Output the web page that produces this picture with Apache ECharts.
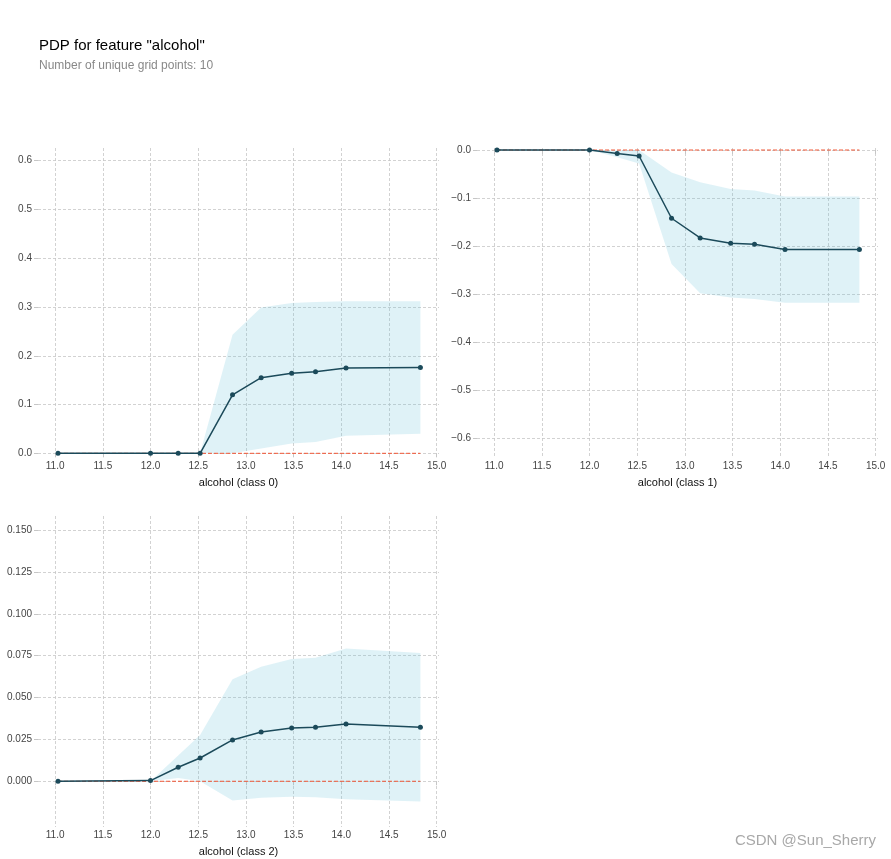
<!DOCTYPE html>
<html>
<head>
<meta charset="utf-8">
<script src="https://cdn.jsdelivr.net/npm/echarts@6/dist/echarts.min.js"></script>
<style>html,body{margin:0;padding:0;background:#fff}#c{width:891px;height:859px}</style>
</head>
<body>
<div id="c"></div>
<script>
const gridPoints = [11.03, 12.0, 12.29, 12.52, 12.86, 13.16, 13.48, 13.73, 14.05, 14.83];

const class0Mean  = [0, 0, 0, 0, 0.120, 0.155, 0.164, 0.167, 0.175, 0.176];
const class0Upper = [0, 0, 0, 0, 0.243, 0.299, 0.308, 0.310, 0.312, 0.312];
const class0Lower = [0, 0, 0, 0, 0.000, 0.010, 0.020, 0.023, 0.036, 0.040];

const class1Mean  = [0, 0, -0.007, -0.0125, -0.142, -0.183, -0.194, -0.196, -0.207, -0.207];
const class1Upper = [0, 0, -0.001, 0.000, -0.047, -0.067, -0.081, -0.084, -0.097, -0.097];
const class1Lower = [0, 0, -0.015, -0.028, -0.237, -0.298, -0.307, -0.310, -0.318, -0.318];

const class2Mean  = [0, 0.0004, 0.0084, 0.0139, 0.0247, 0.0294, 0.0318, 0.0322, 0.0342, 0.0322];
const class2Upper = [0, 0, 0.0154, 0.0276, 0.0609, 0.0684, 0.0730, 0.0738, 0.0793, 0.0766];
const class2Lower = [0, 0, 0.002, 0.000, -0.0115, -0.0099, -0.0093, -0.0095, -0.0107, -0.0121];

const xTicks = [11.0, 11.5, 12.0, 12.5, 13.0, 13.5, 14.0, 14.5, 15.0];
const yTicks0 = [0, 0.1, 0.2, 0.3, 0.4, 0.5, 0.6];
const yTicks1 = [-0.6, -0.5, -0.4, -0.3, -0.2, -0.1, 0];
const yTicks2 = [0, 0.025, 0.05, 0.075, 0.1, 0.125, 0.15];
const xNames = ['alcohol (class 0)', 'alcohol (class 1)', 'alcohol (class 2)'];

const LINE = '#1b4a5a';
const BAND = 'rgba(102,194,215,0.21)';
const ZERO = '#ef5535';
const GRIDC = '#c6c6c6';
const FONT = 'Liberation Sans, Arial, sans-serif';

function fmt(v, d) {
  const s = Math.abs(v).toFixed(d);
  return (v < -1e-9 ? '\u2212' : '') + s;
}

const grids = [
  {left: 38, top: 148, width: 401, height: 310},
  {left: 477, top: 148, width: 401, height: 310},
  {left: 38, top: 516, width: 401, height: 311}
];
const yRanges = [[-0.0096, 0.626], [-0.641, 0.0042], [-0.0273, 0.1584]];
const yTickSets = [yTicks0, yTicks1, yTicks2];
const yDec = [1, 1, 3];
const means = [class0Mean, class1Mean, class2Mean];
const uppers = [class0Upper, class1Upper, class2Upper];
const lowers = [class0Lower, class1Lower, class2Lower];

const xAxes = [], yAxes = [], series = [];
for (let i = 0; i < 3; i++) {
  xAxes.push({
    type: 'value', gridIndex: i, min: 10.82, max: 15.025,
    name: xNames[i], nameLocation: 'middle', nameGap: 19,
    nameTextStyle: {color: '#111', fontSize: 11, fontFamily: FONT},
    axisLine: {show: false},
    axisTick: {show: true, length: 4, lineStyle: {color: GRIDC}, customValues: xTicks},
    axisLabel: {color: '#444', fontSize: 10, fontFamily: FONT, margin: 3, customValues: xTicks,
      formatter: v => fmt(v, 1)},
    splitLine: {show: true, lineStyle: {color: GRIDC, type: [3, 2], width: 0.8}}
  });
  yAxes.push({
    type: 'value', gridIndex: i, min: yRanges[i][0], max: yRanges[i][1],
    axisLine: {show: false},
    axisTick: {show: true, length: 4, lineStyle: {color: GRIDC}, customValues: yTickSets[i]},
    axisLabel: {color: '#444', fontSize: 10, fontFamily: FONT, margin: 6, customValues: yTickSets[i],
      formatter: v => fmt(v, yDec[i])},
    splitLine: {show: true, lineStyle: {color: GRIDC, type: [3, 2], width: 0.8}}
  });
  const up = uppers[i], lo = lowers[i];
  series.push({
    type: 'custom', xAxisIndex: i, yAxisIndex: i, silent: true, z: 1,
    data: gridPoints.map((x, k) => [x, lo[k], up[k]]),
    encode: {x: 0, y: [1, 2]},
    renderItem: function (params, api) {
      if (params.dataIndex !== 0) return null;
      const pts = [];
      for (let k = 0; k < gridPoints.length; k++) pts.push(api.coord([gridPoints[k], up[k]]));
      for (let k = gridPoints.length - 1; k >= 0; k--) pts.push(api.coord([gridPoints[k], lo[k]]));
      return {type: 'polygon', shape: {points: pts}, style: {fill: BAND, stroke: null}};
    }
  });
  series.push({
    type: 'line', xAxisIndex: i, yAxisIndex: i,
    data: [[gridPoints[0], 0], [gridPoints[gridPoints.length - 1], 0]],
    symbol: 'none', lineStyle: {color: ZERO, width: 1, type: [4, 2]}, silent: true, z: 2
  });
  series.push({
    type: 'line', xAxisIndex: i, yAxisIndex: i,
    data: gridPoints.map((x, k) => [x, means[i][k]]),
    symbol: 'circle', symbolSize: 5, showSymbol: true,
    itemStyle: {color: LINE}, lineStyle: {color: LINE, width: 1.5}, z: 3
  });
}

const chart = echarts.init(document.getElementById('c'), null, {renderer: 'canvas'});
chart.setOption({
  animation: false,
  backgroundColor: '#fff',
  title: {
    text: 'PDP for feature "alcohol"',
    subtext: 'Number of unique grid points: 10',
    left: 34, top: 33, itemGap: 7,
    textStyle: {color: '#000', fontSize: 15, fontWeight: 'normal', fontFamily: FONT},
    subtextStyle: {color: '#888', fontSize: 12, fontFamily: FONT}
  },
  graphic: [{
    type: 'text', right: 15, top: 833,
    style: {text: 'CSDN @Sun_Sherry', fill: '#a8a8a8', fontSize: 15, fontFamily: FONT}
  }],
  grid: grids,
  xAxis: xAxes,
  yAxis: yAxes,
  series: series
});
</script>
</body>
</html>
